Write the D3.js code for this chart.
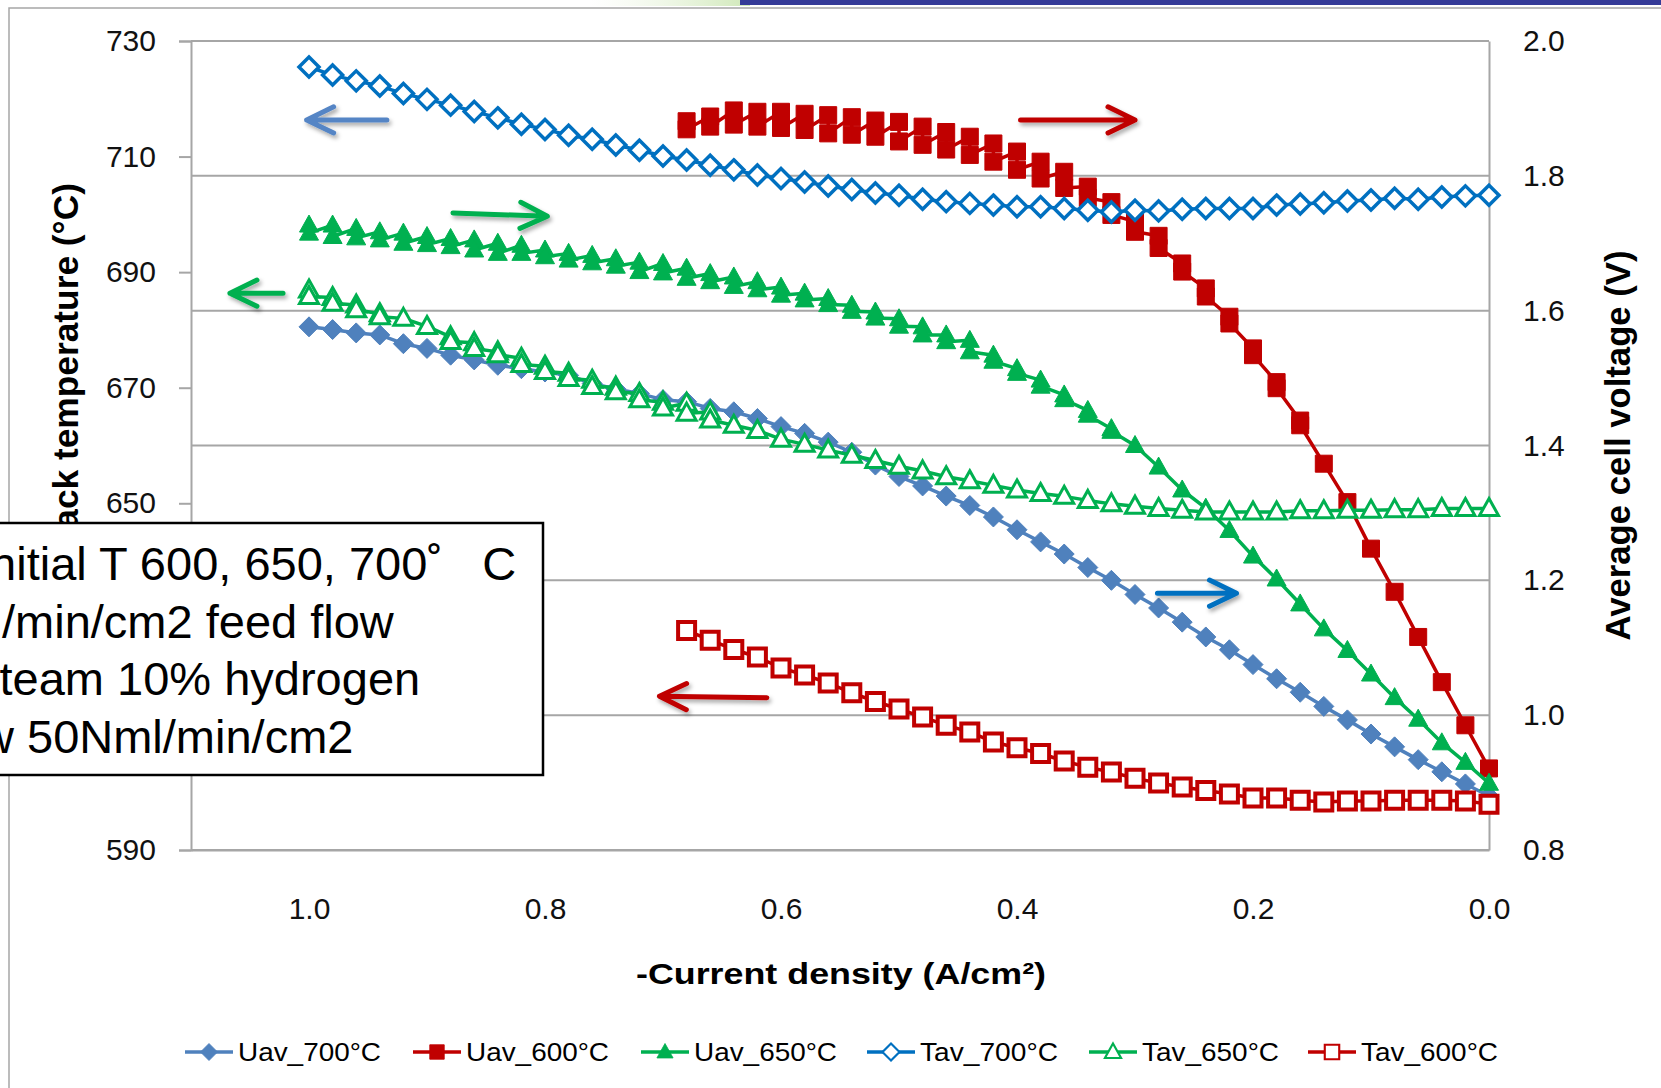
<!DOCTYPE html>
<html>
<head>
<meta charset="utf-8">
<script src="https://cdn.jsdelivr.net/npm/d3@7"></script>
<style>
  body { margin: 0; background: #fff; }
  svg { display: block; }
</style>
</head>
<body>
<svg id="chart"></svg>
<script>
// current density steps (A/cm2)
var current = [1.00,0.98,0.96,0.94,0.92,0.90,0.88,0.86,0.84,0.82,0.80,0.78,0.76,0.74,0.72,0.70,0.68,0.66,
  0.64,0.62,0.60,0.58,0.56,0.54,0.52,0.50,0.48,0.46,0.44,0.42,0.40,0.38,0.36,0.34,0.32,0.30,
  0.28,0.26,0.24,0.22,0.20,0.18,0.16,0.14,0.12,0.10,0.08,0.06,0.04,0.02,0.00];
var current600 = [0.68,0.66,0.64,0.62,0.60,0.58,0.56,0.54,0.52,0.50,0.48,0.46,0.44,0.42,0.40,0.38,0.36,0.34,0.32,0.30,
  0.28,0.26,0.24,0.22,0.20,0.18,0.16,0.14,0.12,0.10,0.08,0.06,0.04,0.02,0.00];

// average cell voltage (V) - right axis
// where a step shows two readings, "...Hi" is the first and "...Lo" the second
var uav700 = [1.576,1.572,1.567,1.564,1.551,1.544,1.534,1.527,1.519,1.514,1.509,1.504,1.492,1.484,1.477,1.468,1.465,1.455,
  1.450,1.440,1.428,1.418,1.405,1.390,1.371,1.354,1.340,1.325,1.311,1.294,1.275,1.257,1.239,1.219,1.200,1.179,
  1.159,1.138,1.116,1.097,1.075,1.054,1.034,1.013,0.993,0.972,0.953,0.934,0.916,0.898,0.880];
var uav600Hi = [1.881,1.888,1.897,1.895,1.895,1.892,1.890,1.887,1.882,1.880,1.873,1.865,1.858,1.848,1.836,1.821,1.806,1.784,1.761,1.732,
  1.711,1.670,1.633,1.591,1.544,1.494,1.437,1.373,1.316,1.247,1.183,1.116,1.049,0.985,0.921];
var uav600Lo = [1.869,1.873,1.876,1.873,1.871,1.868,1.863,1.861,1.858,1.851,1.846,1.839,1.831,1.821,1.809,1.796,1.782,1.767,1.742,1.717,
  1.693,1.658,1.621,1.581,1.534,1.485,1.430,1.373,1.316,1.247,1.183,1.116,1.049,0.985,0.921];
var uav650Hi = [1.727,1.727,1.722,1.717,1.715,1.710,1.707,1.705,1.700,1.697,1.690,1.685,1.682,1.677,1.672,1.670,1.663,1.655,
  1.650,1.643,1.635,1.626,1.618,1.608,1.598,1.588,1.576,1.564,1.556,1.534,1.514,1.497,1.475,1.452,1.425,1.400,
  1.368,1.334,1.307,1.274,1.236,1.202,1.165,1.128,1.096,1.061,1.026,0.994,0.959,0.930,0.899];
var uav650Lo = [1.715,1.710,1.708,1.705,1.700,1.698,1.695,1.690,1.685,1.685,1.680,1.675,1.671,1.666,1.658,1.656,1.648,1.643,
  1.636,1.631,1.623,1.616,1.609,1.599,1.589,1.577,1.564,1.554,1.539,1.525,1.507,1.488,1.468,1.445,1.421,1.400,
  1.368,1.334,1.307,1.274,1.236,1.202,1.165,1.128,1.096,1.061,1.026,0.994,0.959,0.930,0.899];

// average stack temperature (deg C) - left axis
var tav700 = [725.5,724.1,723.1,722.2,720.9,719.9,718.9,717.8,716.7,715.6,714.7,713.7,713.0,712.0,711.1,710.1,709.4,708.5,
  707.7,706.8,706.2,705.6,704.9,704.3,703.7,703.3,702.6,702.2,701.9,701.6,701.3,701.3,701.0,700.7,700.4,700.7,
  700.6,700.9,701.0,701.0,701.0,701.6,701.8,702.0,702.3,702.5,702.8,702.6,703.0,703.2,703.3];
var tav650Hi = [686.9,685.6,684.3,682.8,682.0,680.6,678.8,677.8,676.2,675.1,673.7,672.5,671.3,670.1,669.0,667.5,667.3,665.8,
  663.5,662.6,661.1,660.2,659.2,658.3,657.4,656.4,655.6,654.6,653.9,653.1,652.3,651.7,651.2,650.5,649.9,649.5,
  649.1,648.8,648.5,648.5,648.5,648.5,648.7,648.7,648.8,648.8,648.9,648.9,649.1,649.1,649.1];
var tav650Lo = [685.8,684.6,683.5,682.3,682.0,680.6,678.0,676.8,675.7,674.0,672.8,671.6,670.2,669.3,667.9,666.5,665.6,664.4,
  663.5,662.6,661.1,660.2,659.2,658.3,657.4,656.4,655.6,654.6,653.9,653.1,652.3,651.7,651.2,650.5,649.9,649.5,
  649.1,648.8,648.5,648.5,648.5,648.5,648.7,648.7,648.8,648.8,648.9,648.9,649.1,649.1,649.1];
var tav600 = [628.0,626.3,624.7,623.4,621.5,620.3,618.9,617.2,615.7,614.4,613.0,611.6,610.4,608.7,607.7,606.7,605.4,604.3,603.5,602.4,
  601.6,600.9,600.3,599.7,599.0,599.0,598.6,598.3,598.5,598.5,598.6,598.6,598.6,598.5,597.9];

// tick labels
var tempTicks = [590,610,630,650,670,690,710,730];
var voltTicks = [0.8,1.0,1.2,1.4,1.6,1.8,2.0];
var currentTicks = [1.0,0.8,0.6,0.4,0.2,0.0];

var boxLines = ["Initial T 600, 650, 700\u02DA   C", "/min/cm2 feed flow", "steam 10% hydrogen", "w 50Nml/min/cm2"];

var series = [
  {name:"Uav_700\u00B0C", x:current,    y:uav700,   axis:"V", color:"#4F81BD", shape:"diamond",  filled:true},
  {name:"Uav_600\u00B0C", x:current600, y:uav600Hi, y2:uav600Lo, axis:"V", color:"#C00000", shape:"square", filled:true},
  {name:"Uav_650\u00B0C", x:current,    y:uav650Hi, y2:uav650Lo, axis:"V", color:"#00B050", shape:"triangle", filled:true},
  {name:"Tav_700\u00B0C", x:current,    y:tav700,   axis:"T", color:"#0070C0", shape:"diamond",  filled:false},
  {name:"Tav_650\u00B0C", x:current,    y:tav650Hi, y2:tav650Lo, axis:"T", color:"#00B050", shape:"triangle", filled:false},
  {name:"Tav_600\u00B0C", x:current600, y:tav600,   axis:"T", color:"#C00000", shape:"square",   filled:false}
];

// annotation arrows, in (current, voltage) units
var arrows = [
  {from:[0.934,1.883], to:[1.002,1.883], color:"#5585C5"},
  {from:[0.397,1.883], to:[0.300,1.883], color:"#C00000"},
  {from:[0.878,1.745], to:[0.798,1.740], color:"#00B050"},
  {from:[1.022,1.626], to:[1.067,1.626], color:"#00B050"},
  {from:[0.281,1.181], to:[0.214,1.181], color:"#0070C0"},
  {from:[0.612,1.026], to:[0.703,1.028], color:"#C00000"}
];

var W = 1661, H = 1088;
var plotL = 191, plotR = 1489, plotT = 41, plotB = 850;
var font = "'Liberation Sans', Arial, sans-serif";

var svg = d3.select("#chart").attr("width", W).attr("height", H);

var defs = svg.append("defs");
var shadow = defs.append("filter").attr("id", "shadow")
  .attr("x", "-20%").attr("y", "-50%").attr("width", "140%").attr("height", "200%");
shadow.append("feDropShadow").attr("dx", 2).attr("dy", 3).attr("stdDeviation", 2)
  .attr("flood-color", "#000").attr("flood-opacity", 0.35);
var grad = defs.append("linearGradient").attr("id", "swoosh");
grad.append("stop").attr("offset", "0%").attr("stop-color", "#e8f4dc").attr("stop-opacity", 0);
grad.append("stop").attr("offset", "100%").attr("stop-color", "#cfe8b8").attr("stop-opacity", 1);

// page decoration at the top
svg.append("rect").attr("x", 590).attr("y", 0).attr("width", 160).attr("height", 6).attr("fill", "url(#swoosh)");
svg.append("rect").attr("x", 740).attr("y", 0).attr("width", W - 740).attr("height", 5).attr("fill", "#353B98");
// chart area border
svg.append("path").attr("d", "M9," + H + "V8H" + W)
  .attr("fill", "none").attr("stroke", "#A6A6A6").attr("stroke-width", 1.5);

var x = d3.scaleLinear().domain([1.1, 0]).range([plotL, plotR]);
var yT = d3.scaleLinear().domain([590, 730]).range([plotB, plotT]);
var yV = d3.scaleLinear().domain([0.8, 2.0]).range([plotB, plotT]);

// gridlines from the voltage axis
svg.append("g").selectAll("line").data(voltTicks).enter().append("line")
  .attr("x1", plotL).attr("x2", plotR)
  .attr("y1", function(d) { return yV(d); }).attr("y2", function(d) { return yV(d); })
  .attr("stroke", "#A6A6A6").attr("stroke-width", 2);

// left axis
var gL = svg.append("g").attr("transform", "translate(" + plotL + ",0)")
  .call(d3.axisLeft(yT).tickValues(tempTicks).tickSize(12).tickPadding(23).tickFormat(d3.format("d")));
gL.select(".domain").attr("stroke", "#A6A6A6").attr("stroke-width", 2);
gL.selectAll(".tick line").attr("stroke", "#A6A6A6").attr("stroke-width", 2);
gL.selectAll("text").style("font-family", font).style("font-size", "30px").attr("fill", "#111");

// right axis
var gR = svg.append("g").attr("transform", "translate(" + plotR + ",0)")
  .call(d3.axisRight(yV).tickValues(voltTicks).tickSize(0).tickPadding(34).tickFormat(d3.format(".1f")));
gR.select(".domain").attr("stroke", "#A6A6A6").attr("stroke-width", 2);
gR.selectAll("text").style("font-family", font).style("font-size", "30px").attr("fill", "#111");

// bottom axis
var gB = svg.append("g").attr("transform", "translate(0," + plotB + ")")
  .call(d3.axisBottom(x).tickValues(currentTicks).tickSize(0).tickPadding(48).tickFormat(d3.format(".1f")));
gB.select(".domain").attr("stroke", "#A6A6A6").attr("stroke-width", 2);
gB.selectAll("text").style("font-family", font).style("font-size", "30px").attr("fill", "#111");

// axis titles
svg.append("text")
  .attr("transform", "translate(78," + ((plotT + plotB) / 2) + ") rotate(-90)")
  .attr("text-anchor", "middle")
  .attr("textLength", 525).attr("lengthAdjust", "spacingAndGlyphs")
  .style("font-family", font).style("font-size", "35px").style("font-weight", "bold")
  .text("Average stack temperature (\u00B0C)");
svg.append("text")
  .attr("transform", "translate(1630," + ((plotT + plotB) / 2) + ") rotate(-90)")
  .attr("text-anchor", "middle")
  .attr("textLength", 390).attr("lengthAdjust", "spacingAndGlyphs")
  .style("font-family", font).style("font-size", "35px").style("font-weight", "bold")
  .text("Average cell voltage (V)");
svg.append("text")
  .attr("x", 841).attr("y", 984)
  .attr("text-anchor", "middle")
  .attr("textLength", 410).attr("lengthAdjust", "spacingAndGlyphs")
  .style("font-family", font).style("font-size", "30px").style("font-weight", "bold")
  .text("-Current density (A/cm\u00B2)");

function markerPath(shape) {
  if (shape === "diamond") return "M0,-10L10,0L0,10L-10,0Z";
  if (shape === "square") return "M-8.5,-8.5H8.5V8.5H-8.5Z";
  return "M0,-10L9.5,7L-9.5,7Z";
}
var openStroke = {diamond: 3.5, square: 4, triangle: 3};

// series: lines then markers, in legend order
series.forEach(function(s) {
  var yScale = s.axis === "V" ? yV : yT;
  var pts = [];
  s.x.forEach(function(c, i) {
    pts.push([c, s.y[i]]);
    if (s.y2 && s.y2[i] !== s.y[i]) pts.push([c, s.y2[i]]);
  });
  var line = d3.line()
    .x(function(d) { return x(d[0]); })
    .y(function(d) { return yScale(d[1]); });
  var g = svg.append("g");
  g.append("path").datum(pts)
    .attr("d", line)
    .attr("fill", "none")
    .attr("stroke", s.color)
    .attr("stroke-width", 3.5)
    .attr("stroke-linejoin", "round");
  g.selectAll("path.mk").data(pts).enter().append("path")
    .attr("class", "mk")
    .attr("d", markerPath(s.shape))
    .attr("transform", function(d) { return "translate(" + x(d[0]) + "," + yScale(d[1]) + ")"; })
    .attr("fill", s.filled ? s.color : "#fff")
    .attr("stroke", s.color)
    .attr("stroke-width", s.filled ? 1 : openStroke[s.shape]);
});

// arrows
arrows.forEach(function(a) {
  var x1 = x(a.from[0]), y1 = yV(a.from[1]), x2 = x(a.to[0]), y2 = yV(a.to[1]);
  var ang = Math.atan2(y2 - y1, x2 - x1);
  var len = 30, spread = 0.45;
  var hx1 = x2 - len * Math.cos(ang - spread), hy1 = y2 - len * Math.sin(ang - spread);
  var hx2 = x2 - len * Math.cos(ang + spread), hy2 = y2 - len * Math.sin(ang + spread);
  svg.append("path")
    .attr("d", "M" + x1 + "," + y1 + "L" + x2 + "," + y2 + "M" + hx1 + "," + hy1 + "L" + x2 + "," + y2 + "L" + hx2 + "," + hy2)
    .attr("fill", "none")
    .attr("stroke", a.color)
    .attr("stroke-width", 5)
    .attr("stroke-linecap", "round")
    .attr("stroke-linejoin", "round")
    .attr("filter", "url(#shadow)");
});

// text box
svg.append("rect")
  .attr("x", -10).attr("y", 523).attr("width", 553).attr("height", 252)
  .attr("fill", "#fff").attr("stroke", "#000").attr("stroke-width", 2.5);
var boxX = [-23, 2, -24, -20];
svg.append("g").selectAll("text").data(boxLines).enter().append("text")
  .attr("x", function(d, i) { return boxX[i]; })
  .attr("y", function(d, i) { return 580 + i * 57.5; })
  .attr("xml:space", "preserve")
  .style("white-space", "pre")
  .style("font-family", font).style("font-size", "47px")
  .text(function(d) { return d; });

// legend
var legX = [185, 413, 641, 867, 1089, 1308];
var legLen = [143, 143, 143, 138, 137, 137];
var leg = svg.append("g").selectAll("g").data(series).enter().append("g")
  .attr("transform", function(d, i) { return "translate(" + legX[i] + ",1052)"; });
leg.append("line").attr("x1", 0).attr("x2", 48)
  .attr("stroke", function(d) { return d.color; }).attr("stroke-width", 3.5);
leg.append("path")
  .attr("d", function(d) { return markerPath(d.shape); })
  .attr("transform", "translate(24,0) scale(0.85)")
  .attr("fill", function(d) { return d.filled ? d.color : "#fff"; })
  .attr("stroke", function(d) { return d.color; })
  .attr("stroke-width", function(d) { return d.filled ? 1 : 2.5; });
leg.append("text")
  .attr("x", 53).attr("y", 9)
  .attr("textLength", function(d, i) { return legLen[i]; })
  .attr("lengthAdjust", "spacingAndGlyphs")
  .style("font-family", font).style("font-size", "26px")
  .text(function(d) { return d.name; });
</script>
</body>
</html>
